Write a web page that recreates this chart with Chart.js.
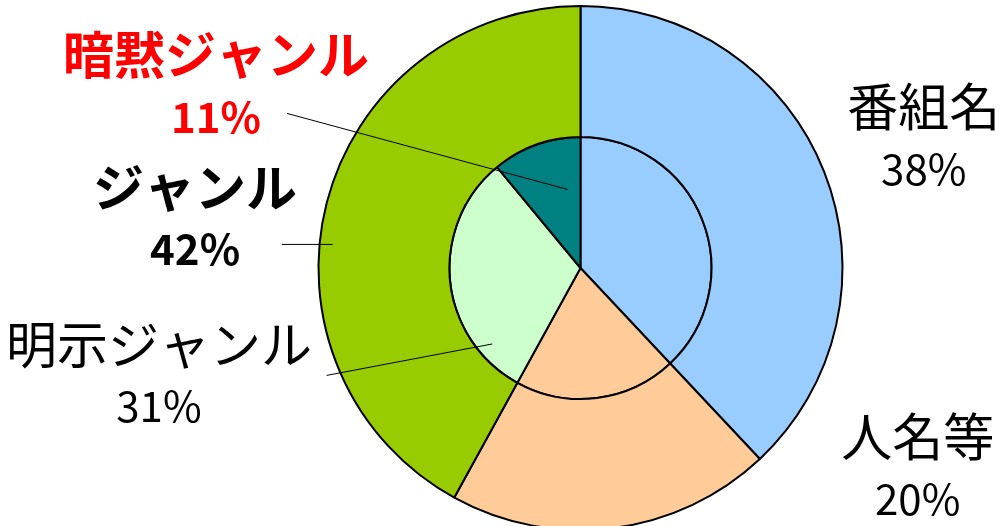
<!DOCTYPE html>
<html>
<head>
<meta charset="utf-8">
<script src="https://cdn.jsdelivr.net/npm/chart.js@4"></script>
<style>
  html, body { margin: 0; padding: 0; background: #fff; overflow: hidden; }
  #wrap { width: 1001px; height: 540px; position: relative; }
</style>
</head>
<body>
<div id="wrap"><canvas id="chart"></canvas></div>
<script>
// data
var outerLabels = ['番組名', '人名等', 'ジャンル']
var outerValues = [38, 20, 42]
var outerColors = ['#99CCFF', '#FFCC99', '#99CC00']

var innerLabels = ['番組名', '人名等', '明示ジャンル', '暗黙ジャンル']
var innerValues = [38, 20, 31, 11]
var innerColors = ['#99CCFF', '#FFCC99', '#CCFFCC', '#008080']

var FONT = '"Noto Sans CJK JP", "Noto Sans", sans-serif'

// label placement (offsets from pie centre in units of outer radius)
var labelDefs = [
    { text: '番組名', pct: '38%', x: 1.310, y: -0.496, color: '#000', bold: false },
    { text: '人名等', pct: '20%', x: 1.287, y: 0.762, color: '#000', bold: false },
    { text: 'ジャンル', pct: '42%', x: -1.471, y: -0.19, color: '#000', bold: true,
      line: [-1.14, -0.09, -0.946, -0.09] },
    { text: '明示ジャンル', pct: '31%', x: -1.609, y: 0.41, color: '#000', bold: false,
      line: [-0.969, 0.41, -0.337, 0.29] },
    { text: '暗黙ジャンル', pct: '11%', x: -1.391, y: -0.695, color: '#FF0000', bold: true,
      line: [-1.12, -0.59, -0.05, -0.30] }
]

var labelPlugin = {
    id: 'pieLabels',
    afterDraw: function(chart){
        var arc = chart.getDatasetMeta(0).data[0]
        var cx = arc.x, cy = arc.y, r = arc.outerRadius
        var ctx = chart.ctx
        ctx.save()
        labelDefs.forEach(function(d){
            if (d.line) {
                ctx.beginPath()
                ctx.strokeStyle = '#000'
                ctx.lineWidth = 1
                ctx.moveTo(cx + d.line[0] * r, cy + d.line[1] * r)
                ctx.lineTo(cx + d.line[2] * r, cy + d.line[3] * r)
                ctx.stroke()
            }
            var lx = cx + d.x * r, ly = cy + d.y * r
            ctx.fillStyle = d.color
            ctx.textAlign = 'center'
            ctx.textBaseline = 'middle'
            ctx.font = (d.bold ? 'bold ' : '') + '51px ' + FONT
            ctx.fillText(d.text, lx, ly - 31)
            ctx.font = (d.bold ? 'bold ' : '') + '42px ' + FONT
            ctx.fillText(d.pct, lx, ly + 31)
        })
        ctx.restore()
    }
}

var ctx = document.getElementById('chart').getContext('2d')

var chart = new Chart(ctx, {
    type: 'pie',
    data: {
        labels: innerLabels,
        datasets: [{
            label: 'outer',
            data: outerValues,
            backgroundColor: outerColors,
            borderColor: '#000',
            borderWidth: 2
        }, {
            label: 'inner',
            data: innerValues,
            backgroundColor: innerColors,
            borderColor: '#000',
            borderWidth: 2
        }]
    },
    options: {
        responsive: true,
        maintainAspectRatio: false,
        animation: false,
        layout: {
            padding: { left: 160, right: 0, top: 5, bottom: 9 }
        },
        plugins: {
            legend: { display: false },
            tooltip: { enabled: false }
        }
    },
    plugins: [labelPlugin]
})
</script>
</body>
</html>
